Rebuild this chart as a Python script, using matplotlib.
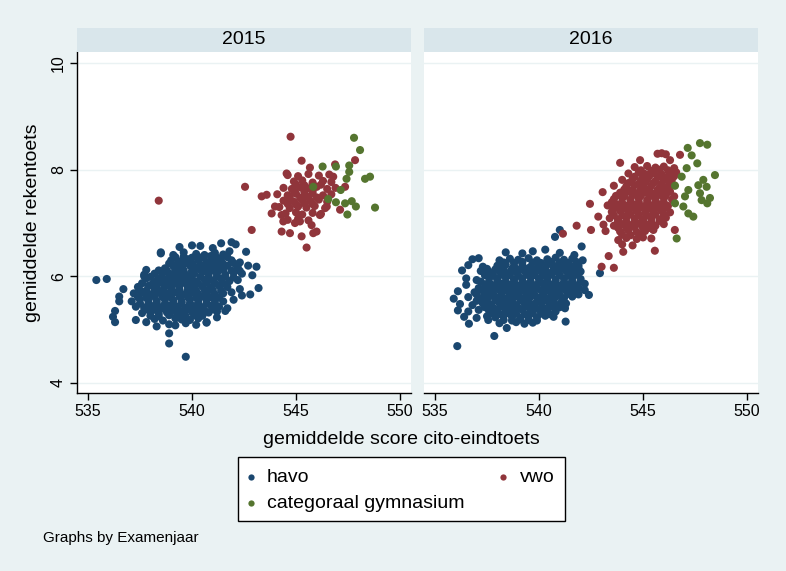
import matplotlib
matplotlib.use("Agg")
import matplotlib.pyplot as plt
from matplotlib.lines import Line2D
from matplotlib.patches import Rectangle

plt.rcParams['font.family'] = ['Liberation Sans', 'DejaVu Sans']

years = ["2015", "2016"]
group_labels = ["havo", "vwo", "categoraal gymnasium"]
group_colors = ["#1a476f", "#90353b", "#55752f"]
x_ticks = [535, 540, 545, 550]
y_ticks = [4, 6, 8, 10]
x_title = "gemiddelde score cito-eindtoets"
y_title = "gemiddelde rekentoets"
note = "Graphs by Examenjaar"

# ---- 2015 ----
havo_2015 = [
    (539.4, 6.55), (540.0, 6.58), (540.4, 6.57), (541.0, 6.53), (541.4, 6.62), (541.9, 6.64), (542.1, 6.6),
    (538.5, 6.43), (539.1, 6.4), (539.6, 6.45), (540.2, 6.42), (540.6, 6.4), (541.1, 6.44), (541.5, 6.41), (541.8, 6.47), (542.6, 6.46),
    (539.0, 6.3), (539.4, 6.28), (539.8, 6.32), (540.3, 6.3), (540.7, 6.27), (541.0, 6.31), (541.4, 6.29), (541.9, 6.3), (542.3, 6.26),
    (537.8, 6.12), (538.7, 6.15), (539.1, 6.19), (539.5, 6.17), (539.9, 6.2), (540.2, 6.16), (540.6, 6.19), (540.9, 6.15), (541.3, 6.18), (541.7, 6.2), (542.2, 6.17), (542.7, 6.2), (543.1, 6.18),
    (537.7, 6.03), (538.2, 6.05), (538.6, 6.07), (539.0, 6.04), (539.4, 6.06), (539.7, 6.03), (540.1, 6.05), (540.5, 6.08), (540.8, 6.04), (541.2, 6.06), (541.6, 6.03), (542.0, 6.07), (542.4, 6.05), (542.9, 6.02),
    (535.4, 5.93), (535.9, 5.95), (537.8, 5.96), (538.3, 5.92), (538.7, 5.94), (539.1, 5.91), (539.4, 5.95), (539.8, 5.93), (540.2, 5.9), (540.6, 5.94), (541.0, 5.92), (541.4, 5.95), (541.8, 5.91), (542.2, 5.93),
    (536.7, 5.76), (537.4, 5.8), (537.9, 5.82), (538.3, 5.79), (538.7, 5.81), (539.0, 5.78), (539.4, 5.82), (539.8, 5.8), (540.1, 5.77), (540.5, 5.81), (540.9, 5.79), (541.3, 5.82), (541.7, 5.8), (542.3, 5.76), (543.2, 5.78),
    (536.5, 5.62), (537.2, 5.68), (537.6, 5.7), (538.0, 5.66), (538.4, 5.69), (538.8, 5.67), (539.2, 5.7), (539.6, 5.66), (540.0, 5.69), (540.3, 5.67), (540.7, 5.7), (541.1, 5.66), (541.5, 5.68), (541.9, 5.7), (542.4, 5.64), (542.8, 5.66),
    (536.5, 5.53), (537.1, 5.53), (537.5, 5.57), (537.9, 5.55), (538.3, 5.54), (538.7, 5.57), (539.1, 5.55), (539.5, 5.53), (539.9, 5.56), (540.3, 5.54), (540.7, 5.57), (541.1, 5.55), (541.5, 5.53), (542.0, 5.56),
    (537.3, 5.43), (537.7, 5.41), (538.1, 5.44), (538.5, 5.42), (538.9, 5.45), (539.3, 5.43), (539.7, 5.41), (540.1, 5.44), (540.5, 5.42), (540.9, 5.45), (541.3, 5.43), (541.7, 5.4),
    (536.3, 5.35), (537.6, 5.31), (538.0, 5.33), (538.4, 5.3), (538.8, 5.32), (539.2, 5.34), (539.6, 5.31), (540.0, 5.33), (540.4, 5.3), (540.8, 5.32), (541.2, 5.34), (541.6, 5.35),
    (536.2, 5.24), (537.3, 5.18), (537.8, 5.14), (538.2, 5.2), (538.6, 5.17), (539.2, 5.21), (539.5, 5.19), (539.9, 5.18), (540.3, 5.21), (540.7, 5.14), (541.2, 5.23),
    (536.3, 5.14), (538.3, 5.06), (538.9, 5.1), (539.2, 5.08), (539.7, 5.12), (540.2, 5.09), (540.7, 5.13),
    (538.9, 4.93), (538.9, 4.74), (539.7, 4.49), (537.7, 6.0), (538.5, 6.45),
    (539.2, 6.36), (539.6, 6.37), (540.0, 6.35), (540.5, 6.36), (540.9, 6.38), (541.2, 6.35), (541.7, 6.36),
    (538.9, 6.24), (539.3, 6.23), (539.7, 6.25), (540.0, 6.24), (540.4, 6.22), (540.8, 6.25), (541.1, 6.24), (541.5, 6.23), (542.0, 6.25),
    (538.4, 6.11), (538.8, 6.1), (539.2, 6.12), (539.6, 6.11), (540.0, 6.1), (540.4, 6.12), (540.7, 6.11), (541.1, 6.1), (541.5, 6.12), (541.9, 6.11), (542.3, 6.1),
    (538.0, 5.99), (538.5, 5.98), (538.9, 6.0), (539.2, 5.99), (539.6, 5.98), (540.0, 6.0), (540.4, 5.99), (540.8, 5.98), (541.2, 6.0), (541.6, 5.99), (542.0, 5.98),
    (537.6, 5.87), (538.1, 5.86), (538.5, 5.88), (538.9, 5.87), (539.2, 5.86), (539.6, 5.88), (540.0, 5.87), (540.3, 5.86), (540.7, 5.88), (541.1, 5.87), (541.5, 5.86),
    (537.5, 5.74), (537.8, 5.73), (538.2, 5.75), (538.6, 5.74), (539.0, 5.73), (539.4, 5.75), (539.8, 5.74), (540.2, 5.73), (540.6, 5.75), (541.0, 5.74), (541.4, 5.73),
    (537.4, 5.61), (537.8, 5.6), (538.2, 5.62), (538.6, 5.61), (539.0, 5.6), (539.4, 5.62), (539.8, 5.61), (540.2, 5.6), (540.5, 5.62), (540.9, 5.61), (541.3, 5.6),
    (537.5, 5.49), (537.9, 5.48), (538.3, 5.5), (538.7, 5.49), (539.1, 5.48), (539.5, 5.5), (539.9, 5.49), (540.3, 5.48), (540.7, 5.5), (541.1, 5.49),
    (537.9, 5.37), (538.3, 5.36), (538.7, 5.38), (539.0, 5.37), (539.4, 5.36), (539.8, 5.38), (540.2, 5.37), (540.6, 5.36), (541.0, 5.38),
    (538.0, 5.26), (538.4, 5.25), (538.9, 5.27), (539.4, 5.26), (539.7, 5.25), (540.1, 5.27), (540.5, 5.26),
]
vwo_2015 = [
    (544.74, 8.62), (542.55, 7.68), (542.87, 6.87), (545.27, 8.17), (545.67, 8.04), (546.88, 8.1), (547.84, 8.18),
    (543.35, 7.5), (543.59, 7.53), (543.99, 7.31), (543.83, 7.18), (544.31, 7.15), (544.39, 7.03), (544.31, 6.84),
    (544.71, 6.81), (544.95, 7.0), (545.19, 7.03), (545.27, 6.75), (545.51, 6.54), (545.83, 6.81), (545.99, 6.84),
    (545.75, 6.96), (546.15, 7.15), (547.12, 7.25), (546.48, 7.31), (544.55, 7.93), (547.36, 7.68), (546.79, 7.87),
    (538.4, 7.42),
    (544.6, 7.9), (545.1, 7.88), (545.6, 7.92), (546.1, 7.89), (546.6, 7.91),
    (544.9, 7.78), (545.3, 7.8), (545.8, 7.76), (546.3, 7.79), (546.7, 7.77),
    (544.4, 7.66), (544.8, 7.64), (545.2, 7.67), (545.6, 7.65), (546.0, 7.68), (546.5, 7.64), (546.9, 7.66),
    (544.1, 7.54), (544.6, 7.52), (545.0, 7.55), (545.4, 7.53), (545.8, 7.56), (546.3, 7.52), (546.7, 7.54),
    (544.4, 7.42), (544.9, 7.4), (545.3, 7.43), (545.7, 7.41), (546.1, 7.44), (546.5, 7.4),
    (544.2, 7.3), (544.7, 7.28), (545.1, 7.31), (545.5, 7.29), (545.9, 7.32), (546.4, 7.28),
    (544.5, 7.18), (545.0, 7.2), (545.3, 7.16), (545.8, 7.19), (546.2, 7.17),
    (544.6, 7.06), (545.1, 7.08), (545.6, 7.05),
    (545.0, 7.72), (545.4, 7.71), (545.8, 7.73), (546.2, 7.72),
    (544.9, 7.6), (545.4, 7.59), (545.8, 7.61),
    (544.7, 7.48), (545.2, 7.47), (545.6, 7.49), (546.0, 7.48),
    (544.6, 7.36), (545.0, 7.35), (545.4, 7.37), (545.8, 7.36),
]
gym_2015 = [
    (547.79, 8.6), (548.08, 8.37), (546.28, 8.06), (546.92, 8.06), (547.56, 8.08), (547.56, 7.96), (547.43, 7.83),
    (548.32, 7.83), (548.56, 7.87), (545.83, 7.68), (547.15, 7.62), (546.55, 7.45), (546.92, 7.39), (547.36, 7.37),
    (547.68, 7.41), (547.88, 7.31), (548.8, 7.29), (547.47, 7.16),
]

# ---- 2016 ----
havo_2016 = [
    (540.77, 6.74), (541.0, 6.87), (542.05, 6.56),
    (538.4, 6.45), (539.2, 6.43), (539.7, 6.47), (540.3, 6.5), (541.0, 6.44), (541.7, 6.4),
    (536.8, 6.32), (537.1, 6.34), (538.1, 6.3), (538.6, 6.33), (539.0, 6.31), (539.5, 6.34), (539.9, 6.3), (540.4, 6.32), (540.8, 6.35), (541.2, 6.31), (541.6, 6.33), (542.1, 6.3),
    (536.6, 6.21), (537.3, 6.18), (538.0, 6.2), (538.4, 6.22), (538.8, 6.19), (539.2, 6.21), (539.6, 6.18), (540.0, 6.2), (540.4, 6.22), (540.8, 6.19), (541.2, 6.21), (541.6, 6.18), (541.9, 6.2),
    (536.3, 6.11), (537.2, 6.1), (537.7, 6.07), (538.1, 6.09), (538.5, 6.06), (538.9, 6.08), (539.3, 6.1), (539.7, 6.07), (540.1, 6.09), (540.5, 6.06), (540.9, 6.08), (541.3, 6.1), (541.7, 6.07), (542.0, 6.09), (542.93, 6.06),
    (536.5, 5.96), (537.0, 5.93), (537.6, 5.97), (538.0, 5.95), (538.4, 5.98), (538.8, 5.94), (539.2, 5.96), (539.6, 5.98), (540.0, 5.95), (540.4, 5.97), (540.8, 5.94), (541.2, 5.96), (541.6, 5.98), (542.0, 5.95),
    (536.5, 5.84), (537.4, 5.85), (537.8, 5.83), (538.2, 5.86), (538.6, 5.84), (539.0, 5.82), (539.4, 5.85), (539.8, 5.83), (540.2, 5.86), (540.6, 5.84), (541.0, 5.82), (541.4, 5.85), (541.8, 5.83), (542.2, 5.86),
    (536.1, 5.72), (536.9, 5.7), (537.3, 5.73), (537.7, 5.71), (538.1, 5.74), (538.5, 5.72), (538.9, 5.7), (539.3, 5.73), (539.7, 5.71), (540.1, 5.74), (540.5, 5.72), (540.9, 5.7), (541.3, 5.73), (541.7, 5.71), (542.2, 5.74),
    (535.9, 5.58), (536.6, 5.61), (537.2, 5.59), (537.6, 5.62), (538.0, 5.6), (538.4, 5.58), (538.8, 5.61), (539.2, 5.59), (539.6, 5.62), (540.0, 5.6), (540.4, 5.58), (540.8, 5.61), (541.2, 5.59), (541.6, 5.62), (542.4, 5.65),
    (536.2, 5.48), (536.8, 5.46), (537.3, 5.49), (537.7, 5.47), (538.1, 5.5), (538.5, 5.48), (538.9, 5.46), (539.3, 5.49), (539.7, 5.47), (540.1, 5.5), (540.5, 5.48), (540.9, 5.46), (541.3, 5.49),
    (536.1, 5.36), (536.6, 5.34), (537.1, 5.37), (537.6, 5.35), (538.0, 5.38), (538.4, 5.36), (538.8, 5.34), (539.2, 5.37), (539.6, 5.35), (540.0, 5.38), (540.4, 5.36), (540.8, 5.34), (541.25, 5.4),
    (536.4, 5.24), (537.0, 5.22), (537.5, 5.25), (537.9, 5.23), (538.3, 5.26), (538.7, 5.24), (539.1, 5.22), (539.5, 5.25), (539.9, 5.23), (540.3, 5.26), (540.7, 5.24),
    (536.63, 5.11), (537.56, 5.18), (538.1, 5.12), (538.45, 5.03), (538.9, 5.14), (539.3, 5.11), (539.7, 5.13), (541.28, 5.15),
    (537.85, 4.88), (536.07, 4.69),
    (538.3, 6.26), (538.8, 6.25), (539.2, 6.27), (539.7, 6.26), (540.1, 6.25), (540.6, 6.27), (541.0, 6.26), (541.4, 6.25), (541.8, 6.27),
    (537.5, 6.14), (537.9, 6.13), (538.3, 6.15), (538.7, 6.14), (539.1, 6.13), (539.5, 6.15), (539.9, 6.14), (540.3, 6.13), (540.7, 6.15), (541.1, 6.14), (541.5, 6.13), (541.9, 6.15),
    (537.4, 6.02), (537.8, 6.01), (538.2, 6.03), (538.6, 6.02), (539.0, 6.01), (539.4, 6.03), (539.8, 6.02), (540.2, 6.01), (540.6, 6.03), (541.0, 6.02), (541.4, 6.01), (541.8, 6.03),
    (537.2, 5.9), (537.6, 5.89), (538.0, 5.91), (538.4, 5.9), (538.8, 5.89), (539.2, 5.91), (539.6, 5.9), (540.0, 5.89), (540.4, 5.91), (540.8, 5.9), (541.2, 5.89), (541.6, 5.91), (542.0, 5.9),
    (537.1, 5.78), (537.5, 5.77), (537.9, 5.79), (538.3, 5.78), (538.7, 5.77), (539.1, 5.79), (539.5, 5.78), (539.9, 5.77), (540.3, 5.79), (540.7, 5.78), (541.1, 5.77), (541.5, 5.79), (541.9, 5.78),
    (537.0, 5.66), (537.4, 5.65), (537.8, 5.67), (538.2, 5.66), (538.6, 5.65), (539.0, 5.67), (539.4, 5.66), (539.8, 5.65), (540.2, 5.67), (540.6, 5.66), (541.0, 5.65), (541.4, 5.67), (541.9, 5.66),
    (537.0, 5.54), (537.5, 5.53), (537.9, 5.55), (538.3, 5.54), (538.7, 5.53), (539.1, 5.55), (539.5, 5.54), (539.9, 5.53), (540.3, 5.55), (540.7, 5.54), (541.1, 5.53),
    (537.4, 5.42), (537.8, 5.41), (538.2, 5.43), (538.6, 5.42), (539.0, 5.41), (539.4, 5.43), (539.8, 5.42), (540.2, 5.41), (540.6, 5.43), (541.0, 5.42),
    (537.8, 5.3), (538.1, 5.29), (538.5, 5.31), (538.9, 5.3), (539.3, 5.29), (539.7, 5.31), (540.1, 5.3), (540.5, 5.29),
    (538.3, 5.18), (538.7, 5.17), (539.1, 5.19), (539.5, 5.18), (539.9, 5.17),
]
vwo_2016 = [
    (545.7, 8.3), (545.9, 8.31), (546.1, 8.29), (546.78, 8.28),
    (544.86, 8.18), (546.3, 8.18), (543.9, 8.13),
    (544.6, 8.05), (545.2, 8.07), (545.6, 8.04), (546.0, 8.06), (546.5, 8.03),
    (544.3, 7.93), (544.8, 7.95), (545.1, 7.92), (545.5, 7.94), (545.9, 7.91), (546.3, 7.93), (546.6, 7.95),
    (544.0, 7.81), (544.5, 7.83), (544.9, 7.8), (545.2, 7.82), (545.6, 7.79), (546.0, 7.81), (546.4, 7.83),
    (543.6, 7.7), (544.2, 7.69), (544.6, 7.71), (545.0, 7.68), (545.4, 7.7), (545.8, 7.67), (546.2, 7.69), (546.5, 7.71),
    (543.06, 7.58), (543.9, 7.57), (544.3, 7.59), (544.7, 7.56), (545.1, 7.58), (545.5, 7.55), (545.9, 7.57), (546.3, 7.59),
    (543.6, 7.45), (544.0, 7.47), (544.4, 7.44), (544.8, 7.46), (545.2, 7.43), (545.6, 7.45), (546.0, 7.47), (546.4, 7.44),
    (542.45, 7.36), (543.3, 7.33), (543.8, 7.35), (544.2, 7.32), (544.6, 7.34), (545.0, 7.31), (545.4, 7.33), (545.8, 7.35), (546.2, 7.32),
    (542.85, 7.12), (543.5, 7.21), (543.9, 7.23), (544.3, 7.2), (544.7, 7.22), (545.1, 7.19), (545.5, 7.21), (545.9, 7.23), (546.3, 7.2),
    (543.4, 7.09), (543.8, 7.07), (544.2, 7.1), (544.6, 7.08), (545.0, 7.06), (545.4, 7.09), (545.8, 7.07), (546.1, 7.1),
    (543.1, 6.97), (543.6, 6.95), (544.0, 6.98), (544.4, 6.96), (544.8, 6.99), (545.2, 6.97), (545.6, 6.95), (546.0, 6.98),
    (542.5, 6.87), (543.2, 6.85), (543.9, 6.84), (544.3, 6.86), (544.7, 6.83), (545.1, 6.85), (545.5, 6.87), (546.53, 6.87),
    (543.81, 6.68), (544.2, 6.72), (544.7, 6.7), (545.0, 6.73), (545.4, 6.71),
    (544.0, 6.6), (544.5, 6.58), (544.05, 6.46), (545.57, 6.48), (543.35, 6.38),
    (543.01, 6.18), (543.6, 6.16), (541.15, 6.8), (541.81, 6.95),
    (544.9, 7.99), (545.4, 7.98), (545.8, 8.0), (546.2, 7.99),
    (544.6, 7.87), (545.0, 7.86), (545.3, 7.88), (545.7, 7.87), (546.1, 7.86), (546.5, 7.88),
    (544.3, 7.75), (544.8, 7.74), (545.1, 7.76), (545.5, 7.75), (545.9, 7.74), (546.3, 7.76),
    (544.1, 7.63), (544.5, 7.62), (544.9, 7.64), (545.3, 7.63), (545.7, 7.62), (546.1, 7.64),
    (543.7, 7.51), (544.1, 7.5), (544.5, 7.52), (544.9, 7.51), (545.3, 7.5), (545.7, 7.52), (546.1, 7.51), (546.5, 7.5),
    (543.5, 7.39), (544.0, 7.38), (544.4, 7.4), (544.8, 7.39), (545.2, 7.38), (545.6, 7.4), (546.0, 7.39),
    (543.6, 7.27), (544.0, 7.26), (544.4, 7.28), (544.8, 7.27), (545.2, 7.26), (545.6, 7.28), (546.0, 7.27),
    (543.6, 7.15), (544.0, 7.14), (544.4, 7.16), (544.8, 7.15), (545.2, 7.14), (545.6, 7.16), (546.0, 7.15),
    (543.8, 7.03), (544.2, 7.02), (544.6, 7.04), (545.0, 7.03), (545.4, 7.02), (545.8, 7.04),
    (543.8, 6.91), (544.2, 6.9), (544.6, 6.92), (545.0, 6.91), (545.4, 6.9),
    (544.0, 6.78), (544.4, 6.77), (544.9, 6.79),
]
gym_2016 = [
    (547.15, 8.41), (547.74, 8.5), (548.09, 8.47), (547.34, 8.27), (547.61, 8.12), (547.1, 8.03), (546.86, 7.87),
    (548.46, 7.9), (547.9, 7.81), (547.66, 7.71), (548.06, 7.68), (546.54, 7.7), (547.18, 7.62), (547.74, 7.56),
    (547.02, 7.5), (547.82, 7.43), (548.22, 7.47), (546.54, 7.37), (546.94, 7.31), (547.18, 7.18), (547.42, 7.12),
    (546.62, 6.71), (548.09, 7.37),
]

panels = {
    "2015": [havo_2015, vwo_2015, gym_2015],
    "2016": [havo_2016, vwo_2016, gym_2016],
}

W, H = 786, 571
bg = "#eaf2f3"
strip_c = "#d9e6eb"
fig = plt.figure(figsize=(W / 100, H / 100), dpi=100, facecolor=bg)

panel_left = [77, 424]
ax_w = 334
ax_top, ax_bot = 52, 393
strip_top = 28

for i, yr in enumerate(years):
    l = panel_left[i]
    ax = fig.add_axes([l / W, 1 - ax_bot / H, ax_w / W, (ax_bot - ax_top) / H])
    ax.set_facecolor("white")
    for pts, col in zip(panels[yr], group_colors):
        xs = [p[0] for p in pts]
        ys = [p[1] for p in pts]
        ax.scatter(xs, ys, s=34, color=col, edgecolors="none", zorder=3)
    ax.set_xlim(534.47, 550.53)
    ax.set_ylim(3.81, 10.21)
    ax.set_xticks(x_ticks)
    ax.set_yticks(y_ticks)
    ax.grid(axis="y", color="#eaf2f3", lw=1.0, zorder=0)
    ax.grid(axis="x", visible=False)
    ax.spines["top"].set_visible(False)
    ax.spines["right"].set_visible(False)
    ax.spines["bottom"].set_color("black")
    ax.spines["bottom"].set_linewidth(1.0)
    ax.tick_params(axis="x", length=5, width=1, labelsize=11.5, pad=3, colors="black")
    if i == 0:
        ax.spines["left"].set_color("black")
        ax.spines["left"].set_linewidth(1.0)
        ax.tick_params(axis="y", length=5, width=1, labelsize=11.5, pad=3, colors="black")
        ax.set_yticklabels([str(v) for v in y_ticks], rotation=90, va="center")
    else:
        ax.spines["left"].set_visible(False)
        ax.tick_params(axis="y", left=False, labelleft=False)
    # strip
    sax = fig.add_axes([l / W, 1 - ax_top / H, ax_w / W, (ax_top - strip_top) / H])
    sax.set_facecolor(strip_c)
    sax.set_xticks([])
    sax.set_yticks([])
    for s in sax.spines.values():
        s.set_visible(False)
    sax.text(0.5, 0.5, yr, ha="center", va="center", fontsize=14, transform=sax.transAxes)

fig.text(401 / W, 1 - 440 / H, x_title, ha="center", va="center", fontsize=14)
fig.text(33 / W, 1 - 223 / H, y_title, ha="center", va="center", rotation=90, fontsize=14)
fig.text(43 / W, 1 - 538 / H, note, ha="left", va="center", fontsize=11)

# legend (drawn in figure pixel positions)
box = Rectangle((238 / W, 1 - 521 / H), 327 / W, 64 / H, transform=fig.transFigure,
                facecolor="white", edgecolor="black", lw=1.0, zorder=5)
fig.add_artist(box)
legend_items = [
    (group_labels[0], group_colors[0], 251, 267, 477),
    (group_labels[1], group_colors[1], 503, 520, 477),
    (group_labels[2], group_colors[2], 251, 267, 503),
]
for lab, col, mx, tx, yy in legend_items:
    fig.add_artist(Line2D([mx / W], [1 - yy / H], transform=fig.transFigure, ls="none",
                          marker="o", ms=4.5, color=col, mec="none", zorder=6))
    fig.text(tx / W, 1 - yy / H, lab, ha="left", va="center", fontsize=14, zorder=6)

fig.savefig("out.png", dpi=100, facecolor=bg)
